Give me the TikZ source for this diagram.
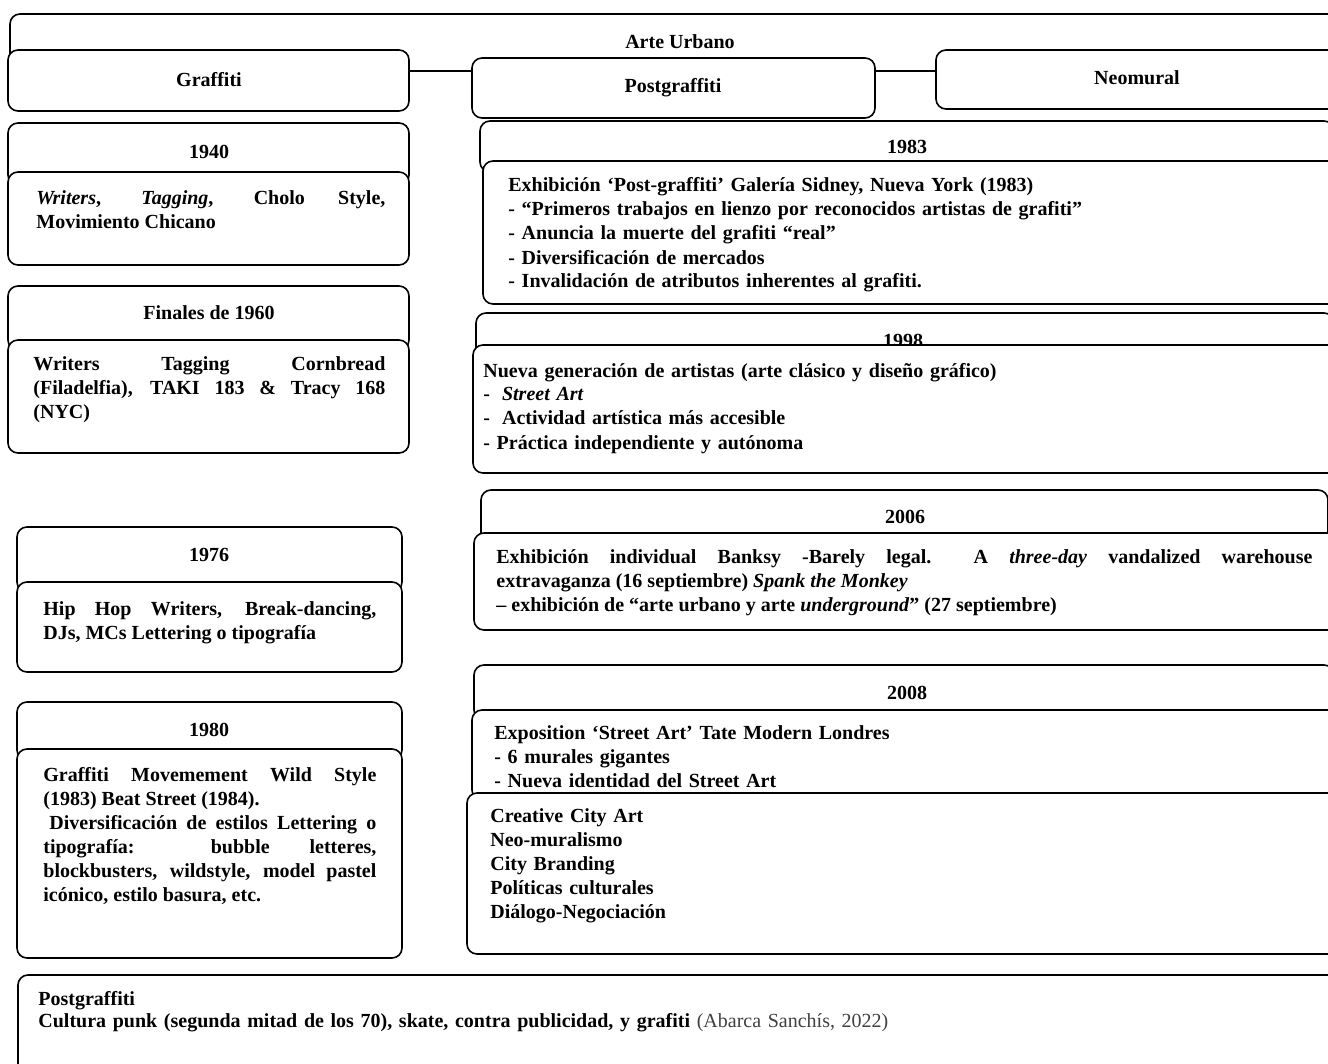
\documentclass[tikz,border=0pt]{standalone}
\usepackage{fontspec}
\setmainfont{Liberation Serif}
\usetikzlibrary{fit}

\begin{document}
\begin{tikzpicture}[x=0.5pt,y=-0.5pt,
  caja/.style={draw,line width=0.8pt,rounded corners=5pt,fill=white,inner sep=0pt},
  titulo/.style={anchor=base,inner sep=0pt,font=\fontsize{10}{12}\selectfont\bfseries},
  texto/.style={anchor=base west,inner sep=0pt,align=left,text width=#1,
    font=\fontsize{10}{12}\selectfont\bfseries},
  texto/.default=420pt]

  \useasboundingbox (0,0) rectangle (1328,1064);
  \clip (0,0) rectangle (1328,1064);

  \node[caja,fit={(10,14) (1350,71)}] (arte) {};
  \node[titulo] (tarte) at (680,48.5) {Arte Urbano};
  \node[caja,fit={(8,50) (409,111)}] (graffiti) {};
  \node[titulo] (tgraffiti) at (209,86.5) {Graffiti};
  \node[caja,fit={(472,58) (875,118)}] (postgraffiti) {};
  \node[titulo] (tpostgraffiti) at (673,93) {Postgraffiti};
  \node[caja,fit={(936,50) (1340,109)}] (neomural) {};
  \node[titulo] (tneomural) at (1137,84.5) {Neomural};

  \node[caja,fit={(8,123) (409,185)}] (h1940) {};
  \node[titulo] (t1940) at (209,158.5) {1940};
  \node[caja,fit={(8,172) (409,265)}] (b1940) {};
  \node[texto=174.5pt,align=justify] (c1940) at (36,205)
    {\textit{Writers}, \textit{Tagging}, Cholo Style,\linebreak Movimiento Chicano};

  \node[caja,fit={(8,286) (409,350)}] (h1960) {};
  \node[titulo] (t1960) at (209,319.5) {Finales de 1960};
  \node[caja,fit={(8,340) (409,453)}] (b1960) {};
  \node[texto=176pt,align=justify] (c1960) at (33,371)
    {Writers Tagging Cornbread\linebreak (Filadelfia), TAKI 183 \& Tracy 168\linebreak (NYC)};

  \node[caja,fit={(17,527) (402,592)}] (h1976) {};
  \node[titulo] (t1976) at (209,561.5) {1976};
  \node[caja,fit={(17,582) (402,672)}] (b1976) {};
  \node[texto=166.5pt,align=justify] (c1976) at (43,615)
    {Hip Hop Writers, Break-dancing,\linebreak DJs, MCs Lettering o tipografía};

  \node[caja,fit={(17,702) (402,760)}] (h1980) {};
  \node[titulo] (t1980) at (209,736.5) {1980};
  \node[caja,fit={(17,749) (402,958)}] (b1980) {};
  \node[texto=166.5pt,align=justify] (c1980) at (43,781)
    {Graffiti Movemement Wild Style\linebreak (1983) Beat Street (1984).\\
     \hspace*{3pt}Diversificación de estilos Lettering o\linebreak
     tipografía: bubble letteres,\linebreak
     blockbusters, wildstyle, model pastel\linebreak
     icónico, estilo basura, etc.};

  \node[caja,fit={(480,121) (1334,172)}] (h1983) {};
  \node[titulo] (t1983) at (907,153.5) {1983};
  \node[caja,fit={(483,161) (1340,304)}] (b1983) {};
  \node[texto] (c1983) at (508,192)
    {Exhibición ‘Post-graffiti’ Galería Sidney, Nueva York (1983)\\
     - “Primeros trabajos en lienzo por reconocidos artistas de grafiti”\\
     - Anuncia la muerte del grafiti “real”\\
     - Diversificación de mercados\\
     - Invalidación de atributos inherentes al grafiti.};

  \node[caja,fit={(476,313) (1334,360)}] (h1998) {};
  \node[titulo] (t1998) at (903,348) {1998};
  \node[caja,fit={(473,345) (1340,473)}] (b1998) {};
  \node[texto] (c1998) at (483,377)
    {Nueva generación de artistas (arte clásico y diseño gráfico)\\
     -\hspace{6pt}\textit{Street Art}\\
     -\hspace{6pt}Actividad artística más accesible\\
     - Práctica independiente y autónoma};

  \node[caja,fit={(481,490) (1328,545)}] (h2006) {};
  \node[titulo] (t2006) at (905,523.5) {2006};
  \node[caja,fit={(474,533) (1340,630)}] (b2006) {};
  \node[texto=408pt,align=justify] (c2006) at (496,563)
    {Exhibición individual Banksy -Barely legal.\ \ A \textit{three-day} vandalized warehouse\linebreak
     extravaganza (16 septiembre) \textit{Spank the Monkey}\\
     – exhibición de “arte urbano y arte \textit{underground}” (27 septiembre)};

  \node[caja,fit={(474,665) (1334,720)}] (h2008) {};
  \node[titulo] (t2008) at (907,699.5) {2008};
  \node[caja,fit={(472,710) (1340,800)}] (b2008) {};
  \node[texto] (c2008) at (494,739)
    {Exposition ‘Street Art’ Tate Modern Londres\\
     - 6 murales gigantes\\
     - Nueva identidad del Street Art};
  \node[caja,fit={(467,793) (1340,954)}] (neo) {};
  \node[texto] (cneo) at (490,822)
    {Creative City Art\\ Neo-muralismo\\ City Branding\\ Políticas culturales\\ Diálogo-Negociación};

  \node[caja,fit={(18,975) (1340,1090)}] (nota) {};
  \node[texto=600pt,font=\fontsize{10}{11}\selectfont\bfseries] (cnota) at (38,1005)
    {Postgraffiti\\
     Cultura punk (segunda mitad de los 70), skate, contra publicidad, y grafiti
     {\mdseries\color{black!75}(Abarca Sanchís, 2022)}};

\end{tikzpicture}
\end{document}
